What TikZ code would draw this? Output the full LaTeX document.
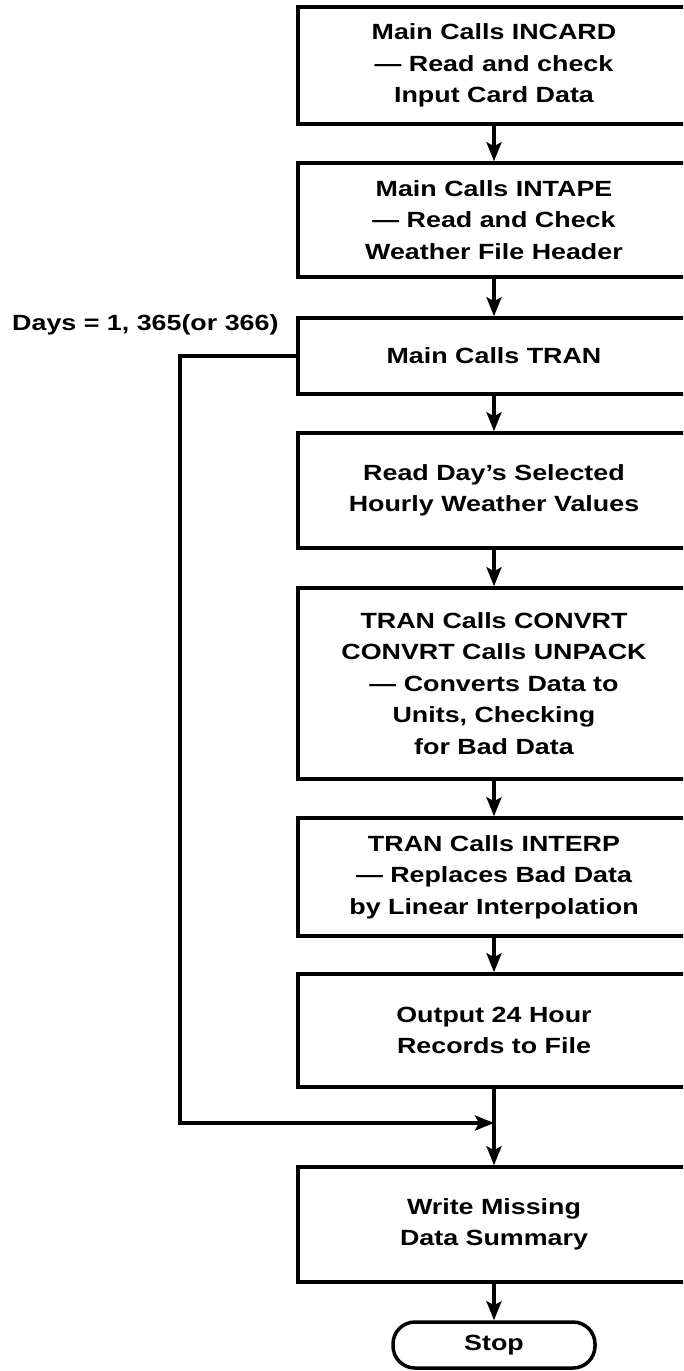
\documentclass[tikz,border=0pt]{standalone}
\usepackage{fontspec}
\setmainfont{Liberation Sans}[FakeStretch=1.22]
\usetikzlibrary{arrows.meta}
\begin{document}
\begin{tikzpicture}[x=1pt,y=-1pt,
  txt/.style={font=\fontsize{22}{31.5}\selectfont\bfseries, inner sep=0pt},
  box/.style={txt, draw, line width=3.5pt, rectangle, align=center, minimum width=392pt},
  arr/.style={line width=3.5pt, -{Stealth[length=19pt,width=15pt,inset=4pt]}},
  link/.style={line width=3.5pt}
]
\useasboundingbox (0,0) rectangle (683,1371);
\clip (0,0) rectangle (683,1371);
\fill[white] (0,0) rectangle (683,1371);

\node[box, minimum height=117pt] (b1) at (494,65.5) {Main Calls INCARD\\— Read and check\\Input Card Data};
\node[box, minimum height=114pt] (b2) at (494,220) {Main Calls INTAPE\\— Read and Check\\Weather File Header};
\node[box, minimum height=76pt] (b3) at (494,356) {Main Calls TRAN};
\node[box, minimum height=115pt] (b4) at (494,490.5) {Read Day's Selected\\Hourly Weather Values};
\node[box, minimum height=191pt] (b5) at (494,683.5) {TRAN Calls CONVRT\\CONVRT Calls UNPACK\\— Converts Data to\\Units, Checking\\for Bad Data};
\node[box, minimum height=118pt] (b6) at (494,877) {TRAN Calls INTERP\\— Replaces Bad Data\\by Linear Interpolation};
\node[box, minimum height=113pt] (b7) at (494,1030.5) {Output 24 Hour\\Records to File};
\node[box, minimum height=115pt] (b8) at (494,1224.5) {Write Missing\\Data Summary};
\node[txt, draw, line width=3.5pt, rounded corners=22pt, minimum width=202pt, minimum height=46pt] (stop) at (494,1345) {Stop};

\node[txt, anchor=base west] (days) at (12,330) {Days = 1, 365(or 366)};

\draw[arr] (b1.south) -- (b2.north);
\draw[arr] (b2.south) -- (b3.north);
\draw[arr] (b3.south) -- (b4.north);
\draw[arr] (b4.south) -- (b5.north);
\draw[arr] (b5.south) -- (b6.north);
\draw[arr] (b6.south) -- (b7.north);
\draw[arr] (b7.south) -- (b8.north);
\draw[arr] (b8.south) -- (stop.north);

\coordinate (lc) at (180,1123);
\coordinate (j) at (494,1123);
\draw[arr, line join=miter] (b3.west) -| (lc) -- (j);
\end{tikzpicture}
\end{document}
